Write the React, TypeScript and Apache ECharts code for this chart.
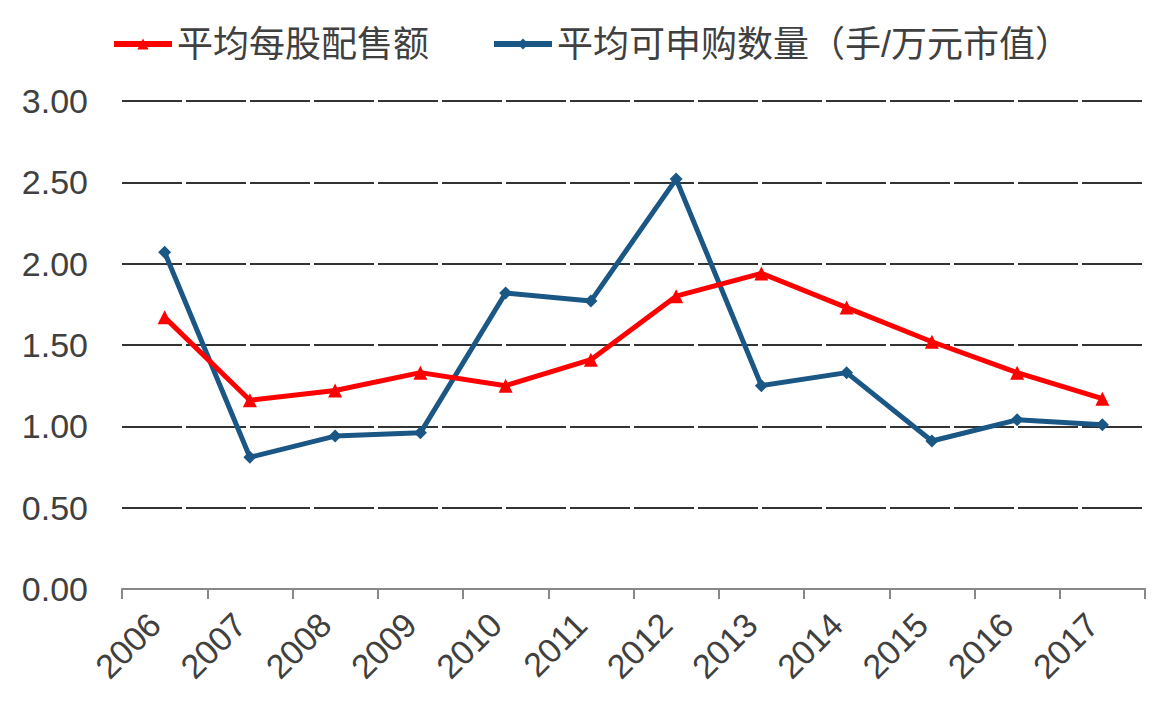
import React, { useEffect, useRef } from "react";
import * as echarts from "echarts";

const categories = ["2006", "2007", "2008", "2009", "2010", "2011", "2012", "2013", "2014", "2015", "2016", "2017"];
const avgAllotment = [1.67, 1.16, 1.22, 1.33, 1.25, 1.41, 1.80, 1.94, 1.73, 1.52, 1.33, 1.17];
const avgSubscribable = [2.07, 0.81, 0.94, 0.96, 1.82, 1.77, 2.52, 1.25, 1.33, 0.91, 1.04, 1.01];
const seriesNames = ["平均每股配售额", "平均可申购数量（手/万元市值）"];

const FONT = "'Liberation Sans', 'Noto Sans CJK SC', sans-serif";

export default function App() {
  const ref = useRef<HTMLDivElement>(null);
  useEffect(() => {
    if (!ref.current) return;
    const chart = echarts.init(ref.current, undefined, { renderer: "svg" });
    chart.setOption({
      animation: false,
      backgroundColor: "#ffffff",
      textStyle: { fontFamily: FONT },
      legend: {
        left: 106,
        top: 21,
        itemWidth: 58,
        itemHeight: 14,
        itemGap: 62,
        lineStyle: { width: 6 },
        textStyle: { fontSize: 36, color: "#404040", fontFamily: FONT },
        data: seriesNames,
      },
      grid: { left: 122, right: 16, top: 101, bottom: 128, containLabel: false },
      xAxis: {
        type: "category",
        data: categories,
        boundaryGap: true,
        axisLine: { show: true, lineStyle: { color: "#888888", width: 2 } },
        axisTick: { show: true, alignWithLabel: false, length: 10, lineStyle: { color: "#888888", width: 2 } },
        axisLabel: {
          rotate: 45,
          fontSize: 34,
          color: "#404040",
          margin: 20,
          padding: [0, 14, 0, 0],
          fontFamily: FONT,
        },
        splitLine: { show: false },
      },
      yAxis: {
        type: "value",
        min: 0,
        max: 3,
        interval: 0.5,
        axisLine: { show: false },
        axisTick: { show: false },
        axisLabel: {
          fontSize: 34,
          color: "#404040",
          margin: 34,
          fontFamily: FONT,
          formatter: (v: number) => v.toFixed(2),
        },
        splitLine: { show: true, lineStyle: { color: "#333333", width: 2, type: [60, 4] } },
      },
      series: [
        {
          name: seriesNames[0],
          type: "line",
          data: avgAllotment,
          symbol: "triangle",
          symbolSize: 14,
          itemStyle: { color: "#ff0000" },
          lineStyle: { color: "#ff0000", width: 5 },
          z: 3,
        },
        {
          name: seriesNames[1],
          type: "line",
          data: avgSubscribable,
          symbol: "diamond",
          symbolSize: 13,
          itemStyle: { color: "#1b5785" },
          lineStyle: { color: "#1b5785", width: 5 },
          z: 2,
        },
      ],
    });
    return () => chart.dispose();
  }, []);
  return <div ref={ref} style={{ position: "fixed", left: 0, top: 0, width: 1161, height: 717 }} />;
}
